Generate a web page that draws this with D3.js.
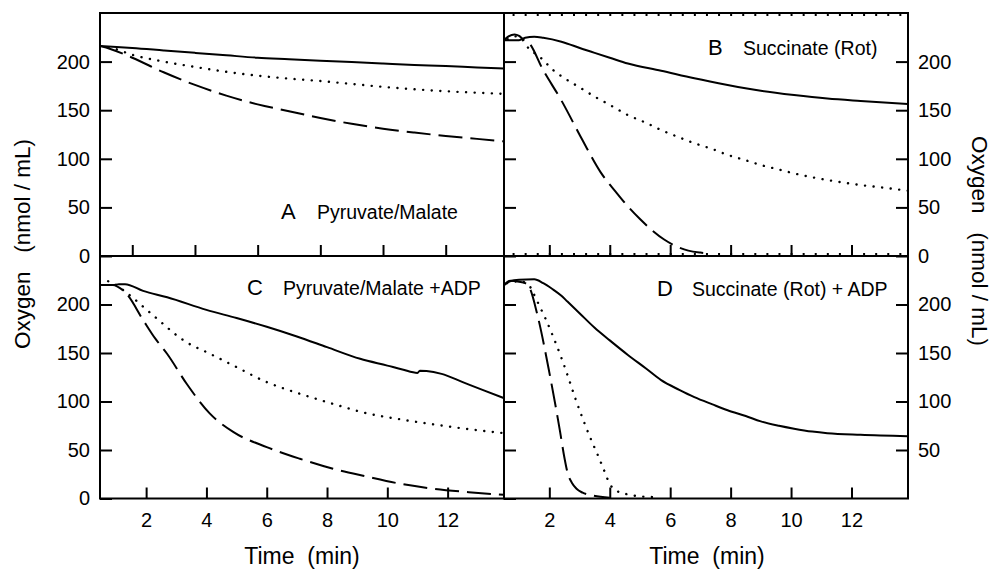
<!DOCTYPE html>
<html>
<head>
<meta charset="utf-8">
<script src="https://cdn.jsdelivr.net/npm/d3@7"></script>
<style>
  body { margin: 0; background: #fff; }
  text { font-family: "Liberation Sans", Arial, Helvetica, sans-serif; fill: #000; }
</style>
</head>
<body>
<script>
// Oxygen traces, time (min) vs oxygen (nmol/mL)

// A  Pyruvate/Malate
var tA_solid = [0.97, 1.5, 2, 3, 4, 5, 6, 7, 8, 9, 10, 11, 12, 13, 13.86];
var oA_solid = [216, 215, 214, 211.5, 209, 206.5, 204, 202.5, 201, 199.5, 198, 196.5, 195.5, 194, 193];
var tA_dot = [0.97, 1.3, 2, 3, 4, 5, 6, 7, 8, 9, 10, 11, 12, 13, 13.86];
var oA_dot = [216, 214.5, 207, 200, 194.5, 189.5, 185.5, 182.5, 180, 177, 174, 171.5, 169.5, 168, 166.7];
var tA_dash = [0.97, 1.3, 2, 3, 4, 5, 6, 7, 8, 9, 10, 11, 12, 13, 13.86];
var oA_dash = [216, 213, 204, 189, 176, 165, 156, 149, 142, 136, 131, 127, 123.5, 120.5, 118];

// B  Succinate (Rot)
var tB_solid = [0.5, 1.0, 1.2, 1.5, 1.8, 2.4, 3.1, 3.5, 4.0, 4.6, 5.7, 6.8, 7.9, 9.0, 10.1, 11.2, 12.3, 13.86];
var oB_solid = [222, 222, 224.5, 225.6, 224.5, 220.5, 213, 209, 204, 198, 190.6, 182.8, 176, 170, 165.6, 162, 159.5, 156.4];
var tB_dot = [0.62, 0.85, 1.1, 1.25, 1.5, 1.75, 2.1, 2.4, 3.0, 3.5, 4.0, 4.6, 5.2, 5.7, 6.3, 6.8, 7.4, 7.9, 8.5, 9.0, 9.6, 10.1, 10.7, 11.2, 12.3, 13.0, 13.86];
var oB_dot = [223, 226, 223, 216, 209, 203, 192, 185, 173.5, 164, 155.5, 145, 137, 129.6, 122, 116, 110, 104, 98.5, 93.6, 89, 85, 81, 78.2, 73, 70.5, 67.2];
var tB_dash = [0.5, 0.65, 0.85, 1.0, 1.15, 1.3, 1.8, 2.4, 3.1, 3.7, 4.2, 4.6, 5.0, 5.4, 5.8, 6.2, 6.6, 7.0, 7.3];
var oB_dash = [222, 226, 228, 226.5, 222.5, 220, 191, 160, 119, 86, 66, 51, 38, 26.5, 17, 10, 5.5, 3.5, 2.7];

// C  Pyruvate/Malate +ADP
var tC_solid = [0.47, 0.9, 1.1, 1.3, 1.9, 2.7, 4.0, 5.0, 6.0, 7.0, 8.0, 9.1, 10.0, 10.5, 11.0, 11.08, 11.3, 11.8, 12.5, 13.2, 13.88];
var oC_solid = [220, 220, 221, 221, 214, 207.5, 194.5, 186, 177, 167, 156, 144, 137, 133, 129.5, 131.8, 131.5, 128.5, 120, 111.5, 103.4];
var tC_dot = [0.74, 1.0, 1.4, 2.0, 2.6, 2.9, 3.4, 4.0, 4.9, 6.0, 7.1, 8.2, 9.3, 10.45, 11.56, 12.7, 13.88];
var oC_dot = [224, 220, 211, 195, 179, 171, 160, 151, 137, 120, 108, 97.6, 88, 81.5, 76.3, 71.5, 67.3];
var tC_dash = [0.47, 0.9, 1.05, 1.35, 1.9, 2.3, 2.7, 3.35, 4.1, 4.9, 6.0, 7.1, 8.2, 9.3, 10.45, 11.56, 12.7, 13.88];
var oC_dash = [220, 220, 218.5, 211, 184, 165, 149, 118, 88, 68.4, 53, 41, 30.6, 22.7, 15.1, 10, 6.5, 3.8];

// D  Succinate (Rot) + ADP
var tD_solid = [0.5, 0.7, 1.0, 1.5, 1.8, 2.1, 2.4, 2.6, 3.0, 3.5, 4.0, 4.6, 5.2, 5.7, 6.3, 6.8, 7.4, 7.9, 8.5, 9.0, 9.6, 10.1, 10.7, 11.2, 12.3, 13.86];
var oD_solid = [220, 224, 225.5, 226, 222, 216, 209, 203, 191, 176, 163, 148, 134, 122, 112, 104.5, 97, 91, 85, 79.5, 75, 72, 69, 67.3, 65.6, 64.2];
var tD_dot = [0.6, 1.0, 1.3, 1.45, 1.65, 1.85, 2.4, 3.0, 3.35, 3.6, 3.8, 4.0, 4.2, 4.5, 4.8, 5.55];
var oD_dot = [222, 224, 221, 213, 200, 187, 145, 91, 63, 45, 30, 15, 8.5, 5, 3, 1.3];
var tD_dash = [0.5, 0.7, 1.0, 1.2, 1.35, 1.6, 2.0, 2.35, 2.5, 2.6, 2.75, 2.9, 3.1, 3.45, 4.0];
var oD_dash = [220, 224.5, 223.5, 222, 217, 190, 130, 70, 42, 27, 16, 10, 6, 3, 0.7];

// ticks
var xTicks = [2, 4, 6, 8, 10, 12];
var yTicks = [0, 50, 100, 150, 200];
var yTicksD = [50, 100, 150, 200];

var width = 994, height = 574;

var svg = d3.select("body").append("svg")
    .attr("width", width)
    .attr("height", height);

var styles = {
  solid: { dash: null, cap: "butt" },
  dot:   { dash: "0.1,8.5", cap: "round" },
  dash:  { dash: "24,8", cap: "butt" }
};

var line = d3.line()
    .x(function(d) { return d.x; })
    .y(function(d) { return d.y; })
    .curve(d3.curveMonotoneX);

function drawPanel(p) {
  var x = d3.scaleLinear().domain(p.xDomain).range([p.left, p.right]);
  var y = d3.scaleLinear().domain([0, 250]).range([p.bottom, p.top]);
  var g = svg.append("g");

  var clipId = "clip" + p.id;
  svg.append("clipPath").attr("id", clipId)
    .append("rect")
    .attr("x", p.left).attr("y", p.top)
    .attr("width", p.right - p.left).attr("height", p.bottom - p.top);

  //traces
  p.series.forEach(function(s) {
    var pts = s.t.map(function(t, i) { return { x: x(t), y: y(s.o[i]) }; });
    var st = styles[s.style];
    g.append("path")
      .attr("clip-path", "url(#" + clipId + ")")
      .attr("d", line(pts))
      .attr("fill", "none")
      .attr("stroke", "#000")
      .attr("stroke-width", s.style == "dot" ? 2.4 : 2)
      .attr("stroke-linecap", st.cap)
      .attr("stroke-dasharray", st.dash);
  });

  //axes (ticks point into the panel)
  function styleAxis(a, fs) {
    a.select(".domain").remove();
    a.selectAll(".tick line").attr("stroke", "#000").attr("stroke-width", 2);
    a.selectAll(".tick text").attr("font-size", fs || 20).attr("fill", "#000")
      .style("font-family", "'Liberation Sans', Arial, sans-serif");
  }

  var left = g.append("g").attr("transform", "translate(" + p.left + ",0)")
    .call(d3.axisLeft(y).tickValues(yTicks).tickSizeInner(-12).tickSizeOuter(0)
      .tickPadding(10).tickFormat(p.leftLabels ? d3.format("d") : ""));
  styleAxis(left);

  if (p.rightTicks) {
    var right = g.append("g").attr("transform", "translate(" + p.right + ",0)")
      .call(d3.axisRight(y).tickValues(p.rightTicks).tickSizeInner(-12).tickSizeOuter(0)
        .tickPadding(10).tickFormat(d3.format("d")));
    styleAxis(right);
  }

  var bottom = g.append("g").attr("transform", "translate(0," + p.bottom + ")")
    .call(d3.axisBottom(x).tickValues(xTicks).tickSizeInner(-11).tickSizeOuter(0)
      .tickPadding(14).tickFormat(p.bottomLabels ? d3.format("d") : ""));
  styleAxis(bottom);

  if (p.minor) {
    var minor = d3.range(0.8, 13.8, 0.4);
    var mb = g.append("g").attr("transform", "translate(0," + p.bottom + ")")
      .call(d3.axisBottom(x).tickValues(minor).tickSizeInner(-3).tickSizeOuter(0).tickFormat(""));
    styleAxis(mb);
    var mt = g.append("g").attr("transform", "translate(0," + p.top + ")")
      .call(d3.axisTop(x).tickValues(minor).tickSizeInner(-3).tickSizeOuter(0).tickFormat(""));
    styleAxis(mt);
  }

  //frame
  g.append("rect")
    .attr("x", p.left).attr("y", p.top)
    .attr("width", p.right - p.left).attr("height", p.bottom - p.top)
    .attr("fill", "none").attr("stroke", "#000").attr("stroke-width", 2);

  //panel label
  g.append("text").attr("x", p.label.lx).attr("y", p.label.by)
    .attr("font-size", 22).text(p.label.letter);
  g.append("text").attr("x", p.label.tx).attr("y", p.label.by)
    .attr("font-size", 19.5).text(p.label.text);
}

drawPanel({
  id: "A", left: 100, right: 504, top: 13, bottom: 256,
  xDomain: [0.97, 13.86], leftLabels: true, bottomLabels: false,
  series: [
    { t: tA_solid, o: oA_solid, style: "solid" },
    { t: tA_dot, o: oA_dot, style: "dot" },
    { t: tA_dash, o: oA_dash, style: "dash" }
  ],
  label: { letter: "A", text: "Pyruvate/Malate", lx: 281, tx: 317, by: 219 }
});

drawPanel({
  id: "B", left: 504, right: 908, top: 13, bottom: 256,
  xDomain: [0.5, 13.87], leftLabels: false, bottomLabels: false,
  rightTicks: yTicks, minor: true,
  series: [
    { t: tB_solid, o: oB_solid, style: "solid" },
    { t: tB_dot, o: oB_dot, style: "dot" },
    { t: tB_dash, o: oB_dash, style: "dash" }
  ],
  label: { letter: "B", text: "Succinate (Rot)", lx: 708, tx: 743, by: 55 }
});

drawPanel({
  id: "C", left: 100, right: 504, top: 256, bottom: 498.5,
  xDomain: [0.47, 13.87], leftLabels: true, bottomLabels: true,
  series: [
    { t: tC_solid, o: oC_solid, style: "solid" },
    { t: tC_dot, o: oC_dot, style: "dot" },
    { t: tC_dash, o: oC_dash, style: "dash" }
  ],
  label: { letter: "C", text: "Pyruvate/Malate +ADP", lx: 247, tx: 283, by: 295 }
});

drawPanel({
  id: "D", left: 504, right: 908, top: 256, bottom: 498.5,
  xDomain: [0.5, 13.87], leftLabels: false, bottomLabels: true,
  rightTicks: yTicksD,
  series: [
    { t: tD_solid, o: oD_solid, style: "solid" },
    { t: tD_dot, o: oD_dot, style: "dot" },
    { t: tD_dash, o: oD_dash, style: "dash" }
  ],
  label: { letter: "D", text: "Succinate (Rot) + ADP", lx: 657, tx: 692, by: 296 }
});

//axis titles
svg.append("text")
    .attr("transform", "translate(30,244) rotate(-90)")
    .attr("text-anchor", "middle")
    .attr("font-size", 22.5)
    .style("white-space", "pre")
    .text("Oxygen   (nmol / mL)");

svg.append("text")
    .attr("transform", "translate(972,241) rotate(90)")
    .attr("text-anchor", "middle")
    .attr("font-size", 22.5)
    .style("white-space", "pre")
    .text("Oxygen   (nmol / mL)");

svg.append("text")
    .attr("x", 302).attr("y", 564)
    .attr("text-anchor", "middle")
    .attr("font-size", 23)
    .style("white-space", "pre")
    .text("Time  (min)");

svg.append("text")
    .attr("x", 707).attr("y", 564)
    .attr("text-anchor", "middle")
    .attr("font-size", 23)
    .style("white-space", "pre")
    .text("Time  (min)");
</script>
</body>
</html>
